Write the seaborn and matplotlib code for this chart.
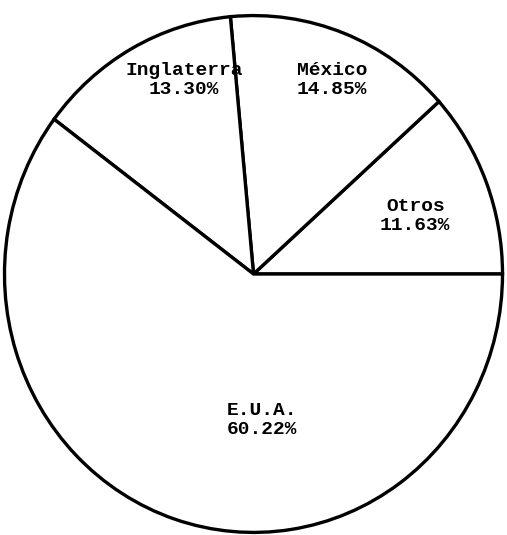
import matplotlib.pyplot as plt
import seaborn as sns

sns.set_theme(style='white')
plt.rcParams['font.family'] = ['Liberation Mono', 'DejaVu Sans Mono']

paises = ['Otros', 'México', 'Inglaterra', 'E.U.A.']
porcentajes = [11.63, 14.85, 13.30, 60.22]

# label centres in data coords (pie radius = 1)
label_pos = [(0.65, 0.225), (0.315, 0.75), (-0.28, 0.75), (0.035, -0.565)]

fig = plt.figure(figsize=(5.07, 5.35), dpi=100)
ax = fig.add_axes([2 / 507, 0.0, 503 / 507, 522 / 535])

wedges, _ = ax.pie(porcentajes, startangle=0, counterclock=True,
                   colors=['white'] * len(paises),
                   wedgeprops={'edgecolor': 'black', 'linewidth': 2.4})
ax.set_aspect('auto')
ax.set_xlim(-1.01, 1.01)
ax.set_ylim(-1.01, 1.01)
ax.axis('off')

for nombre, pct, (x, y) in zip(paises, porcentajes, label_pos):
    ax.text(x, y, f'{nombre}\n{pct:.2f}%', ha='center', va='center',
            fontsize=14, fontweight='bold', linespacing=1.15, color='black')

fig.savefig('out.png', dpi=100, facecolor='white')
plt.close(fig)
